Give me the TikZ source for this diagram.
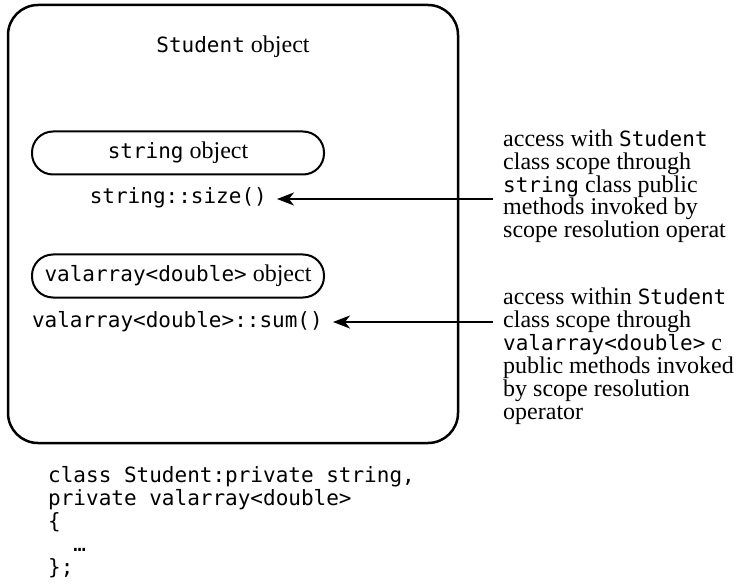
\documentclass[tikz,border=0pt]{standalone}
\usepackage{fontspec}
\setmainfont{Liberation Serif}
\setmonofont{DejaVu Sans Mono}
\usepackage{tikz}
\usetikzlibrary{arrows.meta,positioning}
\newcommand{\cpp}[1]{{\fontsize{21}{23}\selectfont\ttfamily #1}}
\tikzset{
  studentbox/.style={
    draw,
    line width=2.5pt,
    rounded corners=30pt,
    minimum width=450pt,
    minimum height=438pt
  },
  pillbox/.style={
    draw,
    line width=2pt,
    rounded corners=21pt,
    minimum width=292pt,
    minimum height=43pt,
    inner sep=0pt,
    font=\fontsize{24}{23}\selectfont
  },
  callline/.style={
    inner xsep=10pt,
    inner ysep=0pt,
    font=\fontsize{21}{23}\selectfont\ttfamily
  },
  notetext/.style={
    align=left,
    inner sep=0pt,
    font=\fontsize{24}{23}\selectfont
  },
  codetext/.style={
    align=left,
    inner sep=0pt,
    font=\fontsize{21}{23}\selectfont\ttfamily
  },
  accessarrow/.style={
    -{Stealth[length=17pt, width=13pt, inset=5pt]},
    line width=2pt
  }
}

\begin{document}
\begin{tikzpicture}[x=1pt, y=-1pt]
  \useasboundingbox (0,0) rectangle (739,588);
  \clip (0,0) rectangle (739,588);
  % the Student object
  \node[studentbox] (studentbox) at (233,224) {};
  \node[anchor=base, font=\fontsize{24}{23}\selectfont] (studenttitle) at (233,53) {\cpp{Student} object};
  % inherited parts
  \node[pillbox] (stringobj) at (178,153) {\cpp{string} object};
  \node[callline, anchor=base east] (sizecall) at (277,204) {string::size()};
  \node[pillbox] (valobj) at (178,276) {\cpp{valarray<double>} object};
  \node[callline, anchor=base east] (sumcall) at (333,327) {valarray<double>::sum()};
  % notes on the right (base = last line)
  \node[notetext, anchor=base west] (stringnote) at (503,238) {access with \cpp{Student}\\
    class scope through\\
    \cpp{string} class public\\
    methods invoked by\\
    scope resolution operat};
  \node[notetext, anchor=base west] (valnote) at (503,419) {access within \cpp{Student}\\
    class scope through\\
    \cpp{valarray<double>} c\\
    public methods invoked\\
    by scope resolution\\
    operator};
  \coordinate (stringtail) at (493,199);
  \coordinate (valtail) at (493,322);
  \draw[accessarrow] (stringtail) -- (stringtail -| sizecall.east);
  \draw[accessarrow] (valtail) -- (valtail -| sumcall.east);
  % class declaration
  \node[codetext, anchor=base west] (classdecl) at (48,574) {class Student:private string,\\
    private valarray<double>\\
    \{\\
    \phantom{xx}…\\
    \};};
\end{tikzpicture}
\end{document}
